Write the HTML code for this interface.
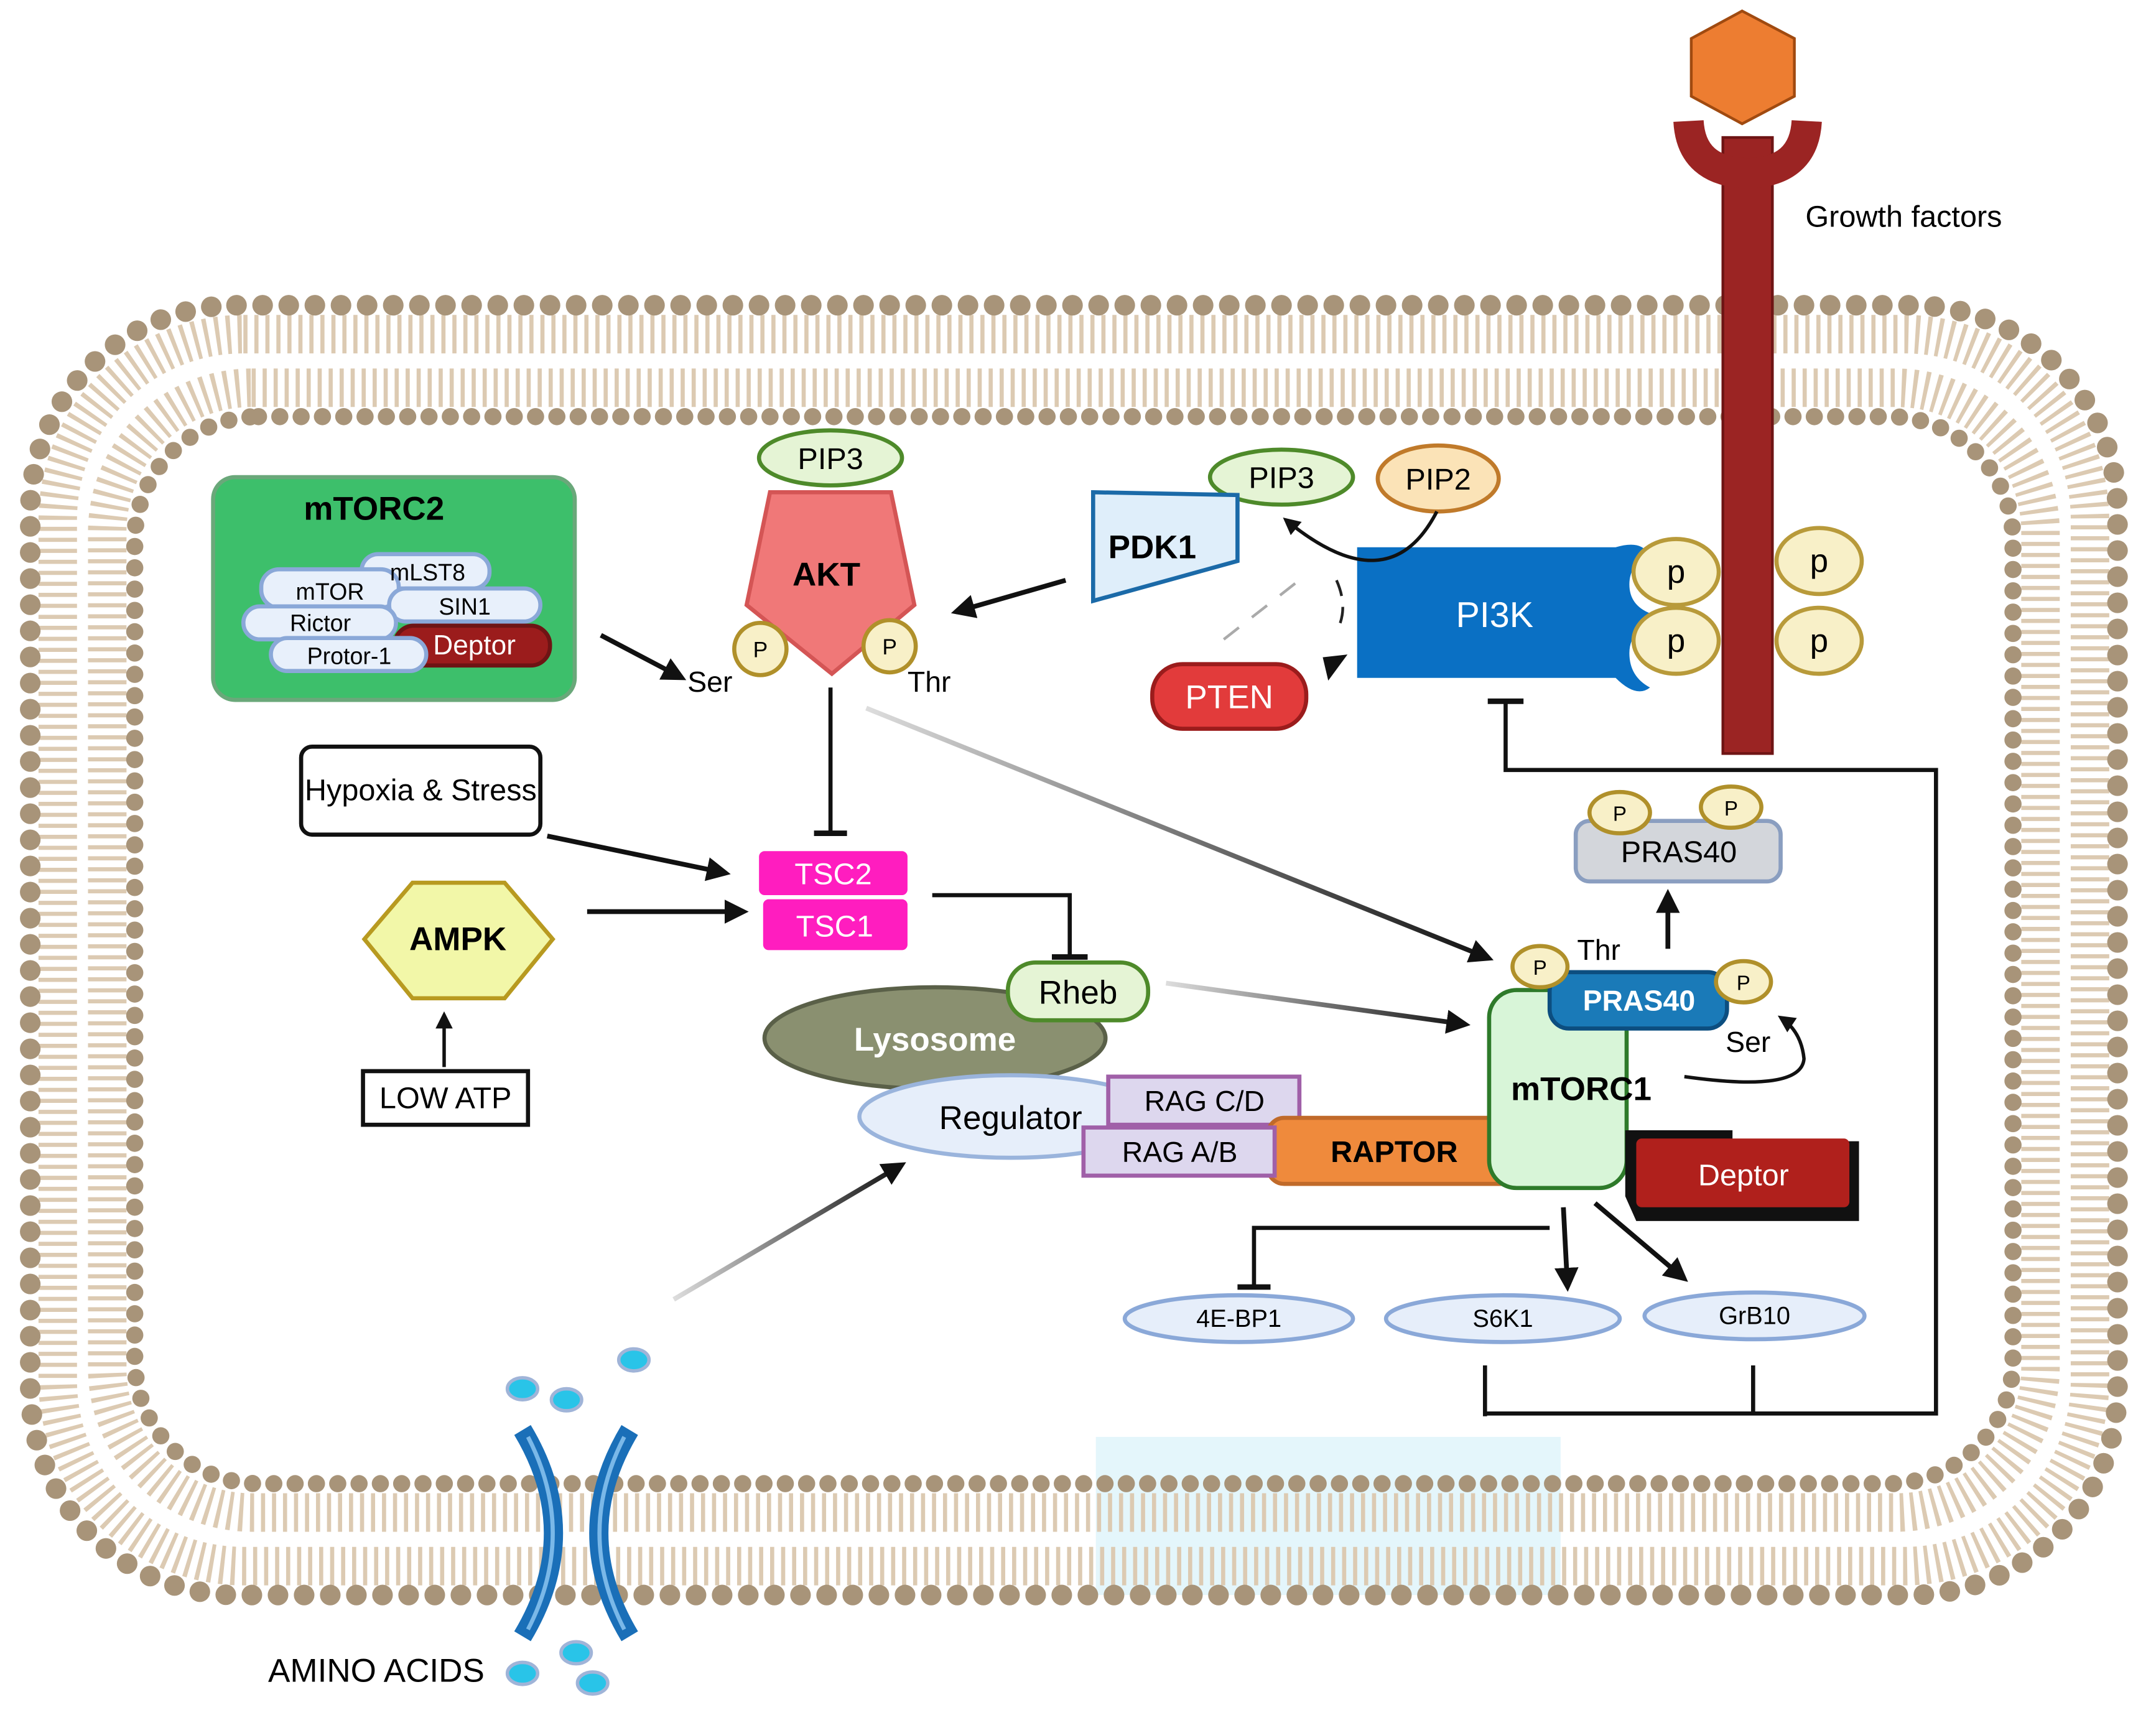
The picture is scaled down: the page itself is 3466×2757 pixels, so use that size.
<!DOCTYPE html>
<html><head><meta charset="utf-8"><style>
html,body{margin:0;padding:0;background:#fff;}
svg{display:block;}
text{font-family:"Liberation Sans",sans-serif;}
</style></head><body>
<svg width="3466" height="2757" viewBox="0 0 1568 1247" preserveAspectRatio="xMinYMin meet" xmlns="http://www.w3.org/2000/svg">
<defs>
<marker id="ah" viewBox="0 0 10 10" refX="8" refY="5" markerWidth="5" markerHeight="5" orient="auto"><path d="M0,0 L10,5 L0,10 z" fill="#111"/></marker>
<linearGradient id="g1" x1="0" y1="0" x2="1" y2="0"><stop offset="0" stop-color="#ddd"/><stop offset="1" stop-color="#111"/></linearGradient>
</defs>
<rect x="797" y="1045" width="338" height="115" fill="#e4f6fb"/>
<rect x="42" y="243" width="1478" height="896" rx="135" fill="none" stroke="#dccab2" stroke-width="28" stroke-dasharray="3 5"/>
<rect x="78" y="282" width="1406" height="818" rx="105" fill="none" stroke="#dccab2" stroke-width="28" stroke-dasharray="3 5"/>
<rect x="22" y="222" width="1518" height="938" rx="150" fill="none" stroke="#a89479" stroke-width="15" stroke-linecap="round" stroke-dasharray="0 19"/>
<rect x="98" y="303" width="1366" height="776" rx="90" fill="none" stroke="#a89479" stroke-width="12.5" stroke-linecap="round" stroke-dasharray="0 15.5"/>

<rect x="1253" y="100" width="36" height="448" fill="#9b2423" stroke="#6e1414" stroke-width="2"/>
<path d="M1228,88 Q1230,125 1271,126 Q1312,125 1314,88" fill="none" stroke="#9b2423" stroke-width="22"/>
<polygon points="1267,8 1305,28 1305,70 1267,90 1230,70 1230,28" fill="#ed7d31" stroke="#a04a10" stroke-width="2"/>
<text x="1313" y="165" font-size="22">Growth factors</text>

<path d="M987,398 H1175 Q1195,392 1200,405 Q1185,410 1185,425 Q1185,440 1200,446 L1200,455 Q1185,460 1185,475 Q1185,492 1200,500 Q1190,508 1175,493 H987 Z" fill="#0a70c4"/>
<text x="1087" y="456" font-size="26" fill="#fff" text-anchor="middle">PI3K</text>
<g fill="#f8f0c8" stroke="#b89a3a" stroke-width="3">
<ellipse cx="1219" cy="416" rx="31" ry="24"/><ellipse cx="1219" cy="466" rx="31" ry="24"/>
<ellipse cx="1323" cy="408" rx="31" ry="24"/><ellipse cx="1323" cy="466" rx="31" ry="24"/></g>
<g font-size="24" text-anchor="middle"><text x="1219" y="424">p</text><text x="1219" y="474">p</text><text x="1323" y="416">p</text><text x="1323" y="474">p</text></g>

<ellipse cx="932" cy="347" rx="52" ry="20" fill="#e5f4d5" stroke="#4e8a2a" stroke-width="3"/>
<text x="932" y="355" font-size="22" text-anchor="middle">PIP3</text>
<ellipse cx="1046" cy="348" rx="44" ry="24" fill="#fbe3b7" stroke="#c07a2a" stroke-width="3"/>
<text x="1046" y="356" font-size="22" text-anchor="middle">PIP2</text>
<path d="M1045,372 Q1010,440 935,378" fill="none" stroke="#111" stroke-width="2.5" marker-end="url(#ah)"/>
<path d="M890,465 L950,418" stroke="#aaa" stroke-width="2" stroke-dasharray="14 12"/>
<path d="M972,422 Q980,440 974,455" fill="none" stroke="#222" stroke-width="2" stroke-dasharray="12 8"/>
<polygon points="962,478 980,476 966,495" fill="#111"/>

<polygon points="795,358 900,360 900,408 795,437" fill="#dfeefa" stroke="#1b6aa8" stroke-width="3"/>
<text x="838" y="406" font-size="24" font-weight="bold" text-anchor="middle">PDK1</text>
<rect x="838" y="483" width="112" height="47" rx="22" fill="#e23b3b" stroke="#9b1c1c" stroke-width="3"/>
<text x="894" y="515" font-size="24" fill="#fff" text-anchor="middle">PTEN</text>
<line x1="775" y1="422" x2="695" y2="445" stroke="#111" stroke-width="3.5" marker-end="url(#ah)"/>

<ellipse cx="604" cy="333" rx="52" ry="20" fill="#e5f4d5" stroke="#4e8a2a" stroke-width="3"/>
<text x="604" y="341" font-size="22" text-anchor="middle">PIP3</text>
<polygon points="560,358 648,358 665,440 605,490 543,440" fill="#f07878" stroke="#d45555" stroke-width="3"/>
<text x="601" y="426" font-size="24" font-weight="bold" text-anchor="middle">AKT</text>
<g fill="#f8f0c8" stroke="#b0902a" stroke-width="3"><circle cx="553" cy="472" r="19"/><circle cx="647" cy="470" r="19"/></g>
<g font-size="16" text-anchor="middle"><text x="553" y="478">P</text><text x="647" y="476">P</text></g>
<text x="500" y="503" font-size="21">Ser</text><text x="660" y="503" font-size="21">Thr</text>

<rect x="155" y="347" width="263" height="162" rx="16" fill="#3dbf6b" stroke="#6aa87a" stroke-width="3"/>
<text x="272" y="378" font-size="24" font-weight="bold" text-anchor="middle">mTORC2</text>
<g stroke="#8aa8d8" stroke-width="3" fill="#e8f0fb">
<rect x="263" y="403" width="93" height="25" rx="12"/>
<rect x="190" y="414" width="100" height="28" rx="13"/>
<rect x="283" y="428" width="110" height="24" rx="12"/>
<rect x="177" y="441" width="111" height="24" rx="12"/>
<rect x="287" y="455" width="113" height="29" rx="14" fill="#9b1c1c" stroke="#6e1414"/>
<rect x="197" y="464" width="113" height="24" rx="12"/></g>
<g font-size="17" text-anchor="middle"><text x="311" y="422">mLST8</text><text x="240" y="436">mTOR</text><text x="338" y="447">SIN1</text><text x="233" y="459">Rictor</text><text x="254" y="483">Protor-1</text></g>
<text x="345" y="476" font-size="20" fill="#fff" text-anchor="middle">Deptor</text>
<line x1="437" y1="462" x2="496" y2="493" stroke="#111" stroke-width="3.5" marker-end="url(#ah)"/>

<rect x="219" y="543" width="174" height="64" rx="8" fill="#fff" stroke="#111" stroke-width="3"/>
<text x="306" y="582" font-size="22" text-anchor="middle">Hypoxia &amp; Stress</text>
<polygon points="265,683 300,642 367,642 402,683 367,726 300,726" fill="#f2f7a8" stroke="#b89a20" stroke-width="3"/>
<text x="333" y="691" font-size="24" font-weight="bold" text-anchor="middle">AMPK</text>
<rect x="264" y="779" width="120" height="39" fill="#fff" stroke="#111" stroke-width="3"/>
<text x="324" y="806" font-size="22" text-anchor="middle">LOW ATP</text>
<line x1="323" y1="776" x2="323" y2="738" stroke="#111" stroke-width="2.5" marker-end="url(#ah)"/>
<line x1="398" y1="608" x2="528" y2="635" stroke="#111" stroke-width="3.5" marker-end="url(#ah)"/>
<line x1="427" y1="663" x2="541" y2="663" stroke="#111" stroke-width="3.5" marker-end="url(#ah)"/>

<rect x="552" y="619" width="108" height="32" rx="4" fill="#ff1dbf"/>
<rect x="555" y="654" width="105" height="37" rx="4" fill="#ff1dbf"/>
<text x="606" y="643" font-size="22" fill="#fff" text-anchor="middle">TSC2</text>
<text x="607" y="681" font-size="22" fill="#fff" text-anchor="middle">TSC1</text>
<polyline points="604,500 604,605" fill="none" stroke="#111" stroke-width="3"/>
<line x1="592" y1="606" x2="616" y2="606" stroke="#111" stroke-width="4"/>
<polyline points="678,651 778,651 778,695" fill="none" stroke="#111" stroke-width="3"/>
<line x1="765" y1="696" x2="791" y2="696" stroke="#111" stroke-width="4"/>

<ellipse cx="680" cy="755" rx="124" ry="37" fill="#8a9070" stroke="#5a6048" stroke-width="3"/>
<text x="680" y="764" font-size="24" font-weight="bold" fill="#fff" text-anchor="middle">Lysosome</text>
<rect x="733" y="700" width="102" height="42" rx="20" fill="#e5f4d5" stroke="#4e8a2a" stroke-width="3"/>
<text x="784" y="730" font-size="24" text-anchor="middle">Rheb</text>
<ellipse cx="735" cy="812" rx="110" ry="30" fill="#e6eefa" stroke="#9ab4dc" stroke-width="3"/>
<text x="735" y="821" font-size="24" text-anchor="middle">Regulator</text>
<rect x="806" y="783" width="139" height="35" fill="#ddd7ee" stroke="#a060a8" stroke-width="3"/>
<text x="876" y="808" font-size="21" text-anchor="middle">RAG C/D</text>
<rect x="922" y="813" width="183" height="48" rx="12" fill="#ef8a3c" stroke="#c06a2a" stroke-width="3"/>
<text x="1014" y="845" font-size="22" font-weight="bold" text-anchor="middle">RAPTOR</text>
<rect x="788" y="820" width="139" height="35" fill="#ddd7ee" stroke="#a060a8" stroke-width="3"/>
<text x="858" y="845" font-size="21" text-anchor="middle">RAG A/B</text>

<rect x="1083" y="720" width="100" height="144" rx="20" fill="#d8f5d8" stroke="#2e7a2a" stroke-width="3"/>
<text x="1150" y="800" font-size="24" font-weight="bold" text-anchor="middle">mTORC1</text>
<rect x="1127" y="707" width="129" height="41" rx="14" fill="#1a7ab8" stroke="#0c4e80" stroke-width="3"/>
<text x="1192" y="735" font-size="21" font-weight="bold" fill="#fff" text-anchor="middle">PRAS40</text>
<g fill="#f8f0c8" stroke="#b0902a" stroke-width="3"><ellipse cx="1120" cy="703" rx="20" ry="15"/><ellipse cx="1268" cy="714" rx="20" ry="15"/></g>
<g font-size="15" text-anchor="middle"><text x="1120" y="709">P</text><text x="1268" y="720">P</text></g>
<text x="1147" y="698" font-size="21">Thr</text><text x="1255" y="765" font-size="21">Ser</text>
<path d="M1225,783 Q1310,795 1312,770 Q1310,750 1295,740" fill="none" stroke="#111" stroke-width="2.5" marker-end="url(#ah)"/>
<path d="M1182,822 H1260 V830 H1352 V888 H1190 L1182,870 Z" fill="#111"/>
<rect x="1190" y="828" width="155" height="50" rx="4" fill="#b0201c"/>
<text x="1268" y="862" font-size="22" fill="#fff" text-anchor="middle">Deptor</text>

<line x1="848" y1="715" x2="1066" y2="745" stroke="url(#g1)" stroke-width="3.5" marker-end="url(#ah)"/>
<line x1="630" y1="515" x2="1083" y2="697" stroke="url(#g1)" stroke-width="3.5" marker-end="url(#ah)"/>
<line x1="1213" y1="690" x2="1213" y2="650" stroke="#111" stroke-width="3.5" marker-end="url(#ah)"/>
<rect x="1146" y="597" width="149" height="44" rx="10" fill="#d3d6db" stroke="#8a9ec0" stroke-width="3"/>
<text x="1221" y="627" font-size="22" text-anchor="middle">PRAS40</text>
<g fill="#f8f0c8" stroke="#b0902a" stroke-width="3"><ellipse cx="1178" cy="591" rx="22" ry="15"/><ellipse cx="1259" cy="587" rx="22" ry="15"/></g>
<g font-size="15" text-anchor="middle"><text x="1178" y="597">P</text><text x="1259" y="593">P</text></g>

<polyline points="1080,1028 1408,1028 1408,560 1095,560 1095,510" fill="none" stroke="#111" stroke-width="3"/>
<line x1="1082" y1="510" x2="1108" y2="510" stroke="#111" stroke-width="4"/>
<line x1="1080" y1="993" x2="1080" y2="1030" stroke="#111" stroke-width="3"/>
<line x1="1275" y1="993" x2="1275" y2="1028" stroke="#111" stroke-width="3"/>
<polyline points="1127,893 912,893 912,935" fill="none" stroke="#111" stroke-width="3"/>
<line x1="900" y1="936" x2="924" y2="936" stroke="#111" stroke-width="4"/>
<line x1="1137" y1="878" x2="1140" y2="936" stroke="#111" stroke-width="3.5" marker-end="url(#ah)"/>
<line x1="1160" y1="875" x2="1225" y2="930" stroke="#111" stroke-width="3.5" marker-end="url(#ah)"/>
<g fill="#e6eefa" stroke="#8aa8d8" stroke-width="3">
<ellipse cx="901" cy="959" rx="83" ry="17"/><ellipse cx="1093" cy="959" rx="85" ry="17"/><ellipse cx="1276" cy="957" rx="80" ry="17"/></g>
<g font-size="18" text-anchor="middle"><text x="901" y="965">4E-BP1</text><text x="1093" y="965">S6K1</text><text x="1276" y="963">GrB10</text></g>

<line x1="490" y1="945" x2="656" y2="847" stroke="url(#g1)" stroke-width="3.5" marker-end="url(#ah)"/>
<path d="M380,1040 Q425,1115 380,1190" fill="none" stroke="#1a6fb8" stroke-width="14"/>
<path d="M458,1040 Q413,1115 458,1190" fill="none" stroke="#1a6fb8" stroke-width="14"/>
<path d="M384,1045 Q420,1115 384,1185" fill="none" stroke="#7ab8e8" stroke-width="3"/>
<path d="M454,1045 Q418,1115 454,1185" fill="none" stroke="#7ab8e8" stroke-width="3"/>
<g fill="#29c4e8" stroke="#a0b4d8" stroke-width="2.5">
<ellipse cx="380" cy="1010" rx="11" ry="8"/><ellipse cx="412" cy="1018" rx="11" ry="8"/><ellipse cx="461" cy="989" rx="11" ry="8"/>
<ellipse cx="419" cy="1202" rx="11" ry="8"/><ellipse cx="380" cy="1217" rx="11" ry="8"/><ellipse cx="431" cy="1224" rx="11" ry="8"/></g>
<text x="195" y="1223" font-size="24">AMINO ACIDS</text>
</svg>
</body></html>
